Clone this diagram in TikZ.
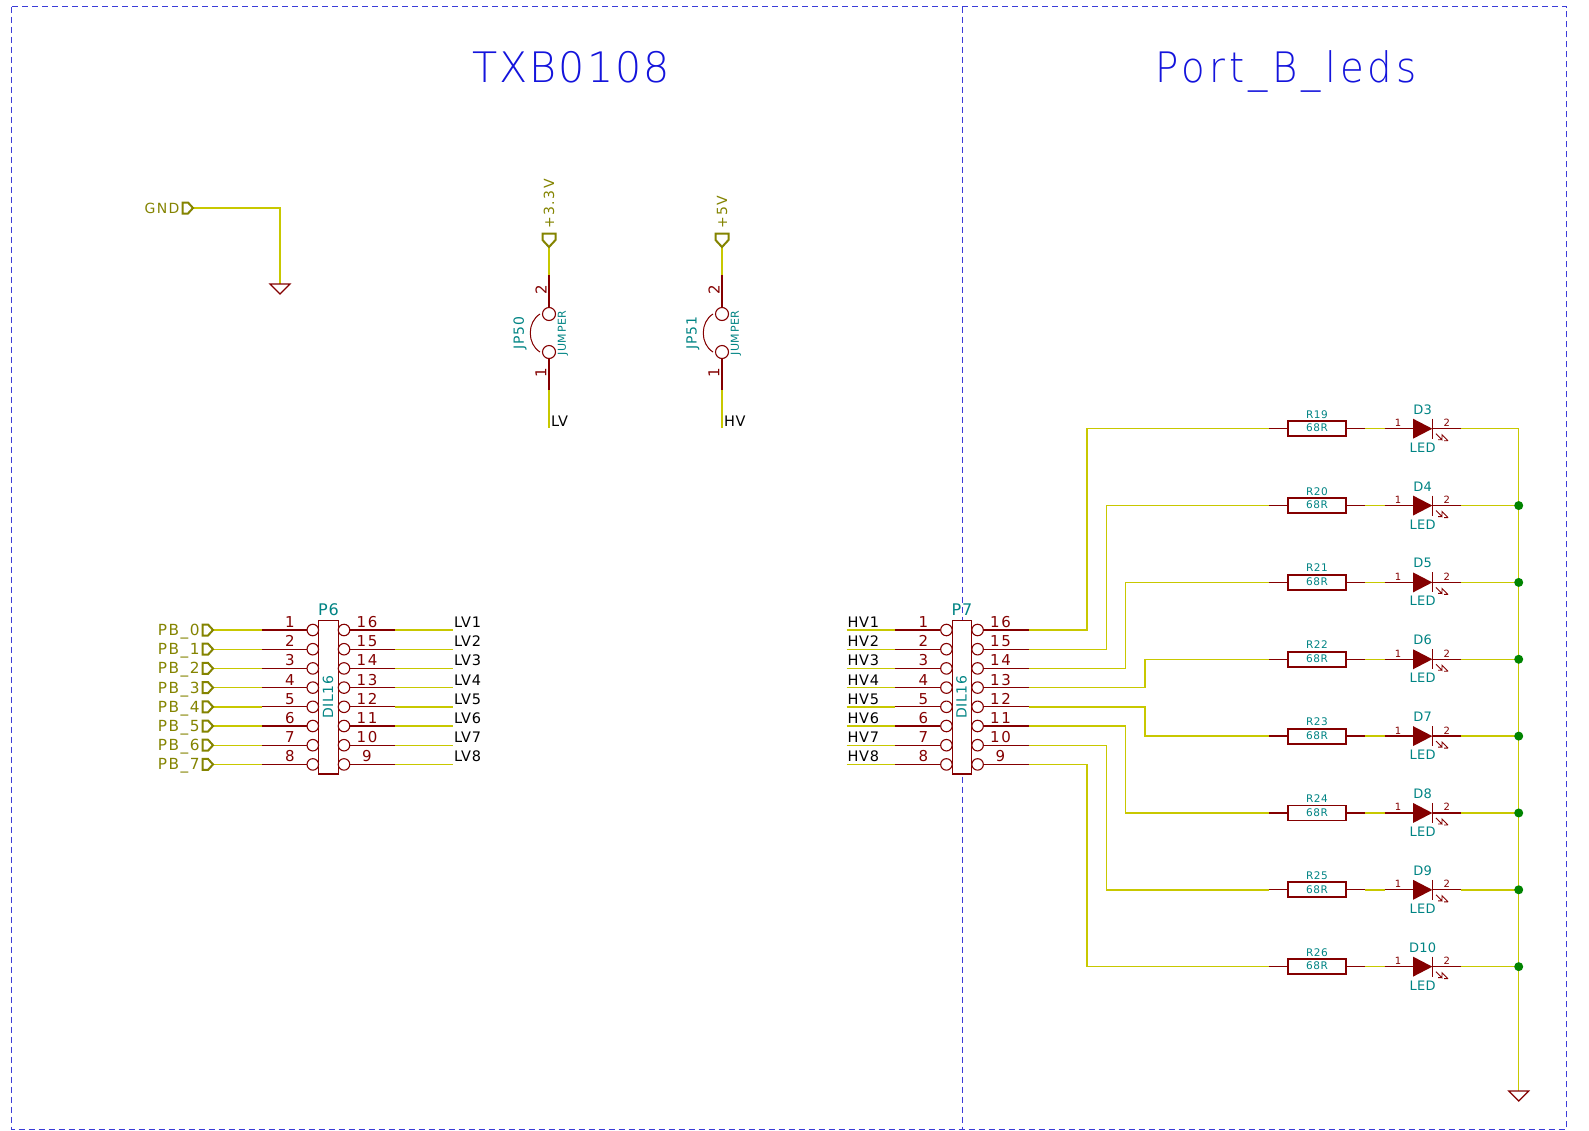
\documentclass[tikz,border=0pt]{standalone}
\usepackage{fontspec}
\usetikzlibrary{calc}
\setmainfont{DejaVu Sans}
\newfontfamily\kcfont{DejaVu Sans}[LetterSpace=5]
\newfontfamily\kcspaced{DejaVu Sans}[LetterSpace=10]
\newfontfamily\kctight{DejaVu Sans}[LetterSpace=2]
\newfontfamily\kctitle{DejaVu Sans ExtraLight}[LetterSpace=5,FakeStretch=0.98]
\newfontfamily\kcwide{DejaVu Sans ExtraLight}[LetterSpace=10,FakeStretch=0.92]
\definecolor{wirec}{HTML}{C8C800}
\definecolor{pinc}{HTML}{840000}
\definecolor{tealc}{HTML}{008484}
\definecolor{flagc}{HTML}{848400}
\definecolor{framec}{HTML}{3C3CD8}
\definecolor{titlec}{HTML}{1414DC}
\definecolor{dotc}{HTML}{008400}
\tikzset{
  txt/.style={inner sep=0pt,outer sep=0pt,font=\kcfont\fontsize{#1}{#1}\selectfont},
  wire/.style={draw=wirec,line width=1.4pt},
  pin/.style={draw=pinc,line width=1.3pt},
  thin pin/.style={draw=pinc,line width=1pt},
  body/.style={draw=pinc,line width=1.2pt,fill=white},
  resbody/.style={draw=pinc,line width=1.9pt,fill=white},
  flag/.style={draw=flagc,line width=2pt,line join=miter,fill=white},
  sheet/.style={draw=framec,line width=1pt,dash pattern=on 6pt off 4pt},
  pinnum/.style={inner sep=0pt,outer sep=0pt,font=\kcspaced\fontsize{15}{15}\selectfont,text=pinc,anchor=base},
  lab/.style={inner sep=0pt,outer sep=0pt,font=\kcfont\fontsize{14.5}{14.5}\selectfont,text=black},
  flaglab/.style={inner sep=0pt,outer sep=0pt,font=\kcspaced\fontsize{14}{14}\selectfont,text=flagc},
  pblab/.style={inner sep=0pt,outer sep=0pt,font=\kcspaced\fontsize{15.3}{15.3}\selectfont,text=flagc},
  ref/.style={txt=14,text=tealc},
  partref/.style={txt=16,text=tealc},
  small/.style={txt=10.5,text=tealc},
  smallnum/.style={txt=10,text=pinc,anchor=base},
  ledtxt/.style={inner sep=0pt,outer sep=0pt,font=\kctight\fontsize{13}{13}\selectfont,text=tealc,anchor=base},
  gndtri/.style={draw=pinc,line width=1.2pt,fill=white},
  junction/.style={circle,fill=dotc,inner sep=0pt,minimum size=9pt},
  ring/.style={circle,draw=pinc,line width=1.1pt,inner sep=0pt,minimum size=12pt,fill=white},
}
\begin{document}
\begin{tikzpicture}[x=1pt,y=-1pt]
\useasboundingbox (0,0) rectangle (1589,1130);
\fill[white] (0,0) rectangle (1589,1130);
% sheets
\draw[sheet] (11.5,6.5) rectangle (1566.7,1129.3);
\draw[sheet] (962,6.5) -- (962,1129.3);
\node[anchor=base,inner sep=0pt,text=titlec,font=\kctitle\fontsize{42}{42}\selectfont] (title1) at (571,82) {TXB0108};
\node[anchor=base,inner sep=0pt,text=titlec,font=\kcwide\fontsize{42}{42}\selectfont] (title2) at (1286,82) {Port\_B\_leds};

% GND
\coordinate (gndf) at (193,208);
\coordinate (gndp) at (280,284);
\draw[wire] (gndf) -| (gndp);
\draw[gndtri] (270,284) -- (290,284) -- (280,294) -- cycle;
\draw[flag] (182.5,202.5) -- (188,202.5) -- (193,208) -- (188,213.5) -- (182.5,213.5) -- cycle;
\node[flaglab,anchor=base east] (gndl) at (179.5,213) {GND};

% jumpers
\foreach \jx/\jn/\supl/\lbl/\ln in {549/JP50/+3.3V/LV/a,722/JP51/+5V/HV/b}{
  \coordinate (flag\ln) at (\jx,247);
  \coordinate (p2\ln) at (\jx,275);
  \coordinate (p1\ln) at (\jx,390);
  \coordinate (end\ln) at (\jx,428);
  \node[ring,minimum size=13pt] (c2\ln) at (\jx,314) {};
  \node[ring,minimum size=13pt] (c1\ln) at (\jx,352) {};
  \draw[wire] (flag\ln) -- (p2\ln);
  \draw[wire] (p1\ln) -- (end\ln);
  \draw[pin] (p2\ln) -- (c2\ln.north);
  \draw[pin] (c1\ln.south) -- (p1\ln);
  \draw[thin pin] (\jx-9,314) .. controls (\jx-22,322) and (\jx-22,344) .. (\jx-9,352);
  \draw[flag] (\jx-6.5,233.5) -- (\jx+6.5,233.5) -- (\jx+6.5,240) -- (flag\ln) -- (\jx-6.5,240) -- cycle;
  \node[flaglab,rotate=90,anchor=base west] (sup\ln) at (\jx+5,228.5) {\supl};
  \node[ref,rotate=90,anchor=center] (jn\ln) at (\jx-29,333) {\jn};
  \node[txt=11,text=tealc,rotate=90,anchor=center] (ju\ln) at (\jx+14,333) {JUMPER};
  \node[pinnum,rotate=90,anchor=center] (n2\ln) at (\jx-8,290) {2};
  \node[pinnum,rotate=90,anchor=center] (n1\ln) at (\jx-8,373) {1};
  \node[lab,anchor=base west] (lb\ln) at (\jx+2,426.5) {\lbl};
}

% connectors P6 and P7
\foreach \ox/\bn/\nm in {0/P6/a,633.6/P7/b}{
  \begin{scope}[shift={(\ox,0)}]
  \node[body,draw,minimum width=19.4pt,minimum height=153.5pt,inner sep=0pt,anchor=center] (\bn box) at (328.4,697.3) {};
  \node[partref,anchor=base] (\bn ref) at (328.4,615.5) {\bn};
  \node[ref,rotate=90,anchor=center] (\bn val) at (328,697.3) {DIL16};
  \end{scope}
}
\foreach \i in {1,...,8}{
  \pgfmathsetmacro{\ry}{630+19.2*(\i-1)}
  \pgfmathtruncatemacro{\rn}{17-\i}
  \pgfmathsetmacro{\rb}{\ry-2.6}
  % left part P6
  \coordinate (fl\i) at (213,\ry);
  \coordinate (lp\i) at (262,\ry);
  \node[ring,minimum size=11.5pt] (lc\i) at (312.8,\ry) {};
  \draw[wire] (fl\i) -- (lp\i);
  \draw[pin] (lp\i) -- (lc\i.west);
  \draw[flag] (202.5,\ry-5.5) -- (208,\ry-5.5) -- (213,\ry) -- (208,\ry+5.5) -- (202.5,\ry+5.5) -- cycle;
  \pgfmathtruncatemacro{\pb}{\i-1}
  \node[pblab,anchor=base east] (pb\i) at (199.5,\ry+5.4) {PB\_\pb};
  \node[pinnum] (ln\i) at (290,\rb) {\i};
  % right part P6
  \node[ring,minimum size=11.5pt] (rc\i) at (344,\ry) {};
  \coordinate (rp\i) at (395,\ry);
  \coordinate (re\i) at (453,\ry);
  \draw[wire] (rp\i) -- (re\i);
  \draw[pin] (rc\i.east) -- (rp\i);
  \node[pinnum] (rn\i) at (367,\rb) {\rn};
  \node[lab,anchor=base west] (lv\i) at (454,\rb) {LV\i};
  % left part P7
  \coordinate (he\i) at (846.7,\ry);
  \coordinate (hp\i) at (895,\ry);
  \node[ring,minimum size=11.5pt] (hc\i) at (946.4,\ry) {};
  \draw[wire] (he\i) -- (hp\i);
  \draw[pin] (hp\i) -- (hc\i.west);
  \node[lab,anchor=base west] (hv\i) at (847.5,\rb) {HV\i};
  \node[pinnum] (hn\i) at (923.5,\rb) {\i};
  % right part P7
  \node[ring,minimum size=11.5pt] (jc\i) at (977.6,\ry) {};
  \coordinate (jp\i) at (1029,\ry);
  \draw[pin] (jc\i.east) -- (jp\i);
  \node[pinnum] (jn\i) at (1000.5,\rb) {\rn};
}

% LED rows and rails
\coordinate (railtop) at (1518.7,428.7);
\coordinate (railend) at (1518.7,1091);
\draw[wire] (railtop) -- (railend);
\draw[gndtri] (1508.7,1091) -- (1528.7,1091) -- (1518.7,1101) -- cycle;
\foreach \i/\rr/\dd/\vx in {1/19/3/1087,2/20/4/1106.3,3/21/5/1125.3,4/22/6/1145,5/23/7/1145,6/24/8/1125.3,7/25/9/1106.3,8/26/10/1087}{
  \pgfmathsetmacro{\ly}{428.7+76.85*(\i-1)}
  \pgfmathsetmacro{\py}{630+19.2*(\i-1)}
  \coordinate (wa\i) at (1269.3,\ly);
  \coordinate (vv\i) at (\vx,\ly);
  \coordinate (vp\i) at (\vx,\py);
  \node[resbody,draw,minimum width=58pt,minimum height=15pt,inner sep=0pt] (R\i) at (1317,\ly) {};
  \coordinate (ra\i) at (1365,\ly);
  \coordinate (da\i) at (1384.7,\ly);
  \coordinate (dt\i) at (1413,\ly);
  \coordinate (dk\i) at (1432.3,\ly);
  \coordinate (db\i) at (1461,\ly);
  \coordinate (rl\i) at (1518.7,\ly);
  \draw[wire] (jp\i) -- (vp\i) -- (vv\i) -- (wa\i);
  \draw[wire] (ra\i) -- (da\i);
  \draw[wire] (db\i) -- (rl\i);
  \draw[pin] (wa\i) -- (R\i.west);
  \draw[pin] (R\i.east) -- (ra\i);
  \draw[pin] (da\i) -- (dt\i);
  \draw[pin] (dk\i) -- (db\i);
  \fill[pinc] ($(dt\i)+(0,-10)$) -- (dk\i) -- ($(dt\i)+(0,10)$) -- cycle;
  \draw[pin] (1432.3,\ly-10) -- (1432.3,\ly+10);
  \draw[pinc,line width=.9pt] (1436,\ly+5) -- (1442,\ly+11) -- (1442,\ly+6) -- (1448,\ly+12) (1442,\ly+11) -- (1438,\ly+11) (1448,\ly+12) -- (1444,\ly+12);
  \node[small,anchor=base] (Rr\i) at (1317,\ly-10.5) {R\rr};
  \node[small,anchor=base] (Rv\i) at (1317,\ly+3.2) {68R};
  \node[ledtxt] (Dr\i) at (1422.7,\ly-14.5) {D\dd};
  \node[ledtxt] (Dv\i) at (1422.7,\ly+23.5) {LED};
  \node[smallnum] (Da\i) at (1398,\ly-2) {1};
  \node[smallnum] (Db\i) at (1446.7,\ly-2) {2};
}
\foreach \i in {2,...,8}{ \node[junction] (dot\i) at (rl\i) {}; }
\end{tikzpicture}
\end{document}
